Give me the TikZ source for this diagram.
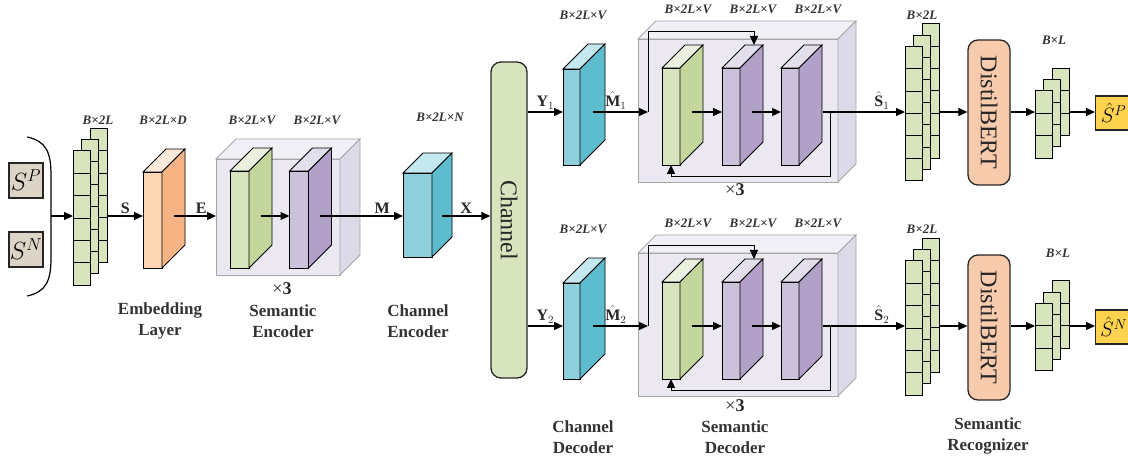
\documentclass[tikz,border=0pt]{standalone}
\usepackage{fontspec}
\usepackage{amsmath}
\setmainfont{Liberation Serif}
\usetikzlibrary{arrows.meta,calc}

\definecolor{grnF}{HTML}{D7E4BD}
\definecolor{grnS}{HTML}{C3D69B}
\definecolor{grnT}{HTML}{EBF1DE}
\definecolor{purF}{HTML}{CCC1DA}
\definecolor{purS}{HTML}{B1A0C7}
\definecolor{purT}{HTML}{E4DFEC}
\definecolor{cynF}{HTML}{8FCFDC}
\definecolor{cynS}{HTML}{5DBDCF}
\definecolor{cynT}{HTML}{C4E8EF}
\definecolor{orgF}{HTML}{FCD5B5}
\definecolor{orgS}{HTML}{F6B383}
\definecolor{orgT}{HTML}{FDE9D9}
\definecolor{boxF}{HTML}{EBE8F2}
\definecolor{boxS}{HTML}{DCD9E9}
\definecolor{boxT}{HTML}{F2F0F7}
\definecolor{boxline}{HTML}{A6A6A6}
\definecolor{cell}{HTML}{D8E4BC}
\definecolor{inbox}{HTML}{DCD4C7}
\definecolor{bertF}{HTML}{F8CBAD}
\definecolor{gold}{HTML}{FFD24F}

% cuboid: [border] name, x, y (front centre), width, height, depth, colour
\newcommand{\cuboid}[8][draw=black]{%
  \node[face, #1, fill=#8F, minimum width=#5pt, minimum height=#6pt] (#2) at (#3,#4) {};
  \filldraw[face, #1, fill=#8T] (#2.north west) -- ++(#7,-#7) -- ++(#5,0) -- (#2.north east) -- cycle;
  \filldraw[face, #1, fill=#8S] (#2.north east) -- ++(#7,-#7) -- ++(0,#6) -- (#2.south east) -- cycle;
  \coordinate (#2-s) at ($(#2.east)+(#7/2,-#7/2)$);
  \coordinate (#2-t) at ($(#2.north)+(#7,-#7)$);
}

% stack of three token columns: name, x, y (front column centre), cells
\newcommand{\stack}[4]{%
  \pgfmathtruncatemacro\lastc{#4-1}%
  \foreach \nm/\k in {#1-b/2,#1-m/1,#1/0} {
    \node[col, minimum height=#4*22.4pt] (\nm) at (#2+\k*8.7,#3-\k*11.3) {};
    \foreach \c in {1,...,\lastc}
      \draw[face] ($(\nm.north west)+(0,\c*22.4)$) -- ++(17,0);
  }
}

\begin{document}
\begin{tikzpicture}[x=1pt,y=-1pt]
    \tikzset{
        face/.style={rectangle, inner sep=0pt, outer sep=0pt, line width=0.8pt},
        col/.style={face, draw=black, fill=cell, minimum width=17pt},
        conn/.style={-{Triangle[length=9pt,width=8pt]}, line width=1.2pt},
        dimlabel/.style={font=\fontsize{13}{15}\selectfont\bfseries\itshape, text=black!80},
        arrlabel/.style={font=\fontsize{16}{18}\selectfont\bfseries, inner sep=2pt, text=black!85},
        blocklabel/.style={font=\fontsize{17}{21}\selectfont\bfseries, align=center, text=black!80},
        replabel/.style={font=\fontsize{18}{20}\selectfont, text=black!85},
        sbox/.style={rectangle, draw=black!85, line width=1.2pt, fill=inbox,
            minimum width=34pt, minimum height=35pt, inner sep=0pt,
            font=\fontsize{25}{25}\selectfont},
        roundbox/.style={rectangle, rounded corners=10pt, draw=black!85, line width=1.3pt, inner sep=0pt},
        outbox/.style={rectangle, draw=black!85, line width=1.2pt, fill=gold, anchor=west,
            minimum width=36pt, minimum height=34pt, inner sep=0pt,
            font=\fontsize{20}{20}\selectfont},
        vtext/.style={rotate=-90, font=\fontsize{24}{24}\selectfont, text=black!85},
    }
    \useasboundingbox (0,0) rectangle (1128,462);
    % \draw (0,0) grid[step=50] (1128,462);
    \coordinate (r0) at (0,216);
    \coordinate (r1) at (0,112);
    \coordinate (r2) at (0,326);

    % input sentences
    \node[sbox] (sp) at (26,180.5) {$S^P$};
    \node[sbox] (sn) at (26,249.5) {$S^N$};
    \draw[line width=1.2pt] (27,137) .. controls (46,141) and (51,152) .. (51,175)
        -- (51,258) .. controls (51,281) and (46,292) .. (27,296);
    \coordinate (brk) at (51,216);

    \stack{in}{81.5}{218}{6}
    \draw[conn] (brk) -- (in.west |- r0);

    % encoder side
    \cuboid{emb}{152.5}{220}{19}{96}{23}{org}
    \draw[conn] (in-b.east |- r0) -- node[arrlabel, above] (lS) {S} (emb.west |- r0);
    \cuboid[draw=boxline]{enc}{278}{217}{124}{116}{20}{box}
    \cuboid{enc-g}{239.5}{219.5}{19}{97}{23}{grn}
    \cuboid{enc-p}{299}{219.5}{19}{97}{23}{pur}
    \draw[conn] (emb-s |- r0) -- node[arrlabel, above, pos=0.65] (lE) {E} (enc.west |- r0);
    \draw[conn] (enc-g-s |- r0) -- (enc-p.west |- r0);
    \cuboid{chenc}{417.5}{215}{29}{84}{20}{cyn}
    \draw[conn] (enc-p-s |- r0) -- node[arrlabel, above, pos=0.75] (lM) {M} (chenc.west |- r0);

    \node[roundbox, fill=grnF, minimum width=36pt, minimum height=316pt] (chan) at (509,220) {};
    \node[vtext] (chan-txt) at (chan) {Channel};
    \draw[conn] (chenc-s |- r0) -- node[arrlabel, above] (lX) {X} (chan.west |- r0);

    % upper decoder branch
    \cuboid{cy1}{571.5}{117}{17}{96}{25}{cyn}
    \draw[conn] (chan.east |- r1) -- node[arrlabel, above] (lY1) {Y$_1$} (cy1.west |- r1);
    \cuboid[draw=boxline]{dec1}{738}{110.5}{200}{143}{18}{box}
    \cuboid{dec1-g}{671}{116.5}{18}{97}{23}{grn}
    \cuboid{dec1-p}{731}{116.5}{18}{97}{23}{pur}
    \cuboid{dec1-q}{790}{116.5}{18}{97}{23}{pur}
    \coordinate (j1) at (648,112);
    \draw[conn] (cy1-s |- r1) -- node[arrlabel, above, pos=0.42] (lM1) {$\hat{\text{\textbf{M}}}_1$} (j1);
    \draw[conn, line width=1pt] (j1) -- ++(0,-80) -| (dec1-p-t);
    \draw[conn] (dec1-g-s |- r1) -- (dec1-p.west |- r1);
    \draw[conn] (dec1-p-s |- r1) -- (dec1-q.west |- r1);
    \coordinate (q1) at ($(dec1-q-s |- r1)+(12,0)$);
    \draw[conn, line width=1pt] ($(q1)+(8,0)$) -- ++(0,65) -| (dec1-g.south);
    \stack{s1}{913.5}{113.5}{6}
    \draw[conn] (q1) -- node[arrlabel, above, pos=0.72] (lS1) {$\hat{\text{\textbf{S}}}_1$} (s1.west |- r1);
    \node[roundbox, fill=bertF, minimum width=42pt, minimum height=145pt] (bert1) at (989,112.5) {};
    \node[vtext] (bert1-txt) at (bert1) {DistilBERT};
    \draw[conn] (s1-b.east |- r1) -- (bert1.west |- r1);
    \stack{o1}{1043.5}{124.5}{3}
    \draw[conn] (bert1.east |- r1) -- (o1.west |- r1);
    \node[outbox] (sp-hat) at (1095,113) {$\hat{S}^P$};
    \draw[conn] (o1-b.east |- r1) -- (sp-hat.west |- r1);

    % lower decoder branch
    \cuboid{cy2}{571.5}{331}{17}{96}{25}{cyn}
    \draw[conn] (chan.east |- r2) -- node[arrlabel, above] (lY2) {Y$_2$} (cy2.west |- r2);
    \cuboid[draw=boxline]{dec2}{738}{324.5}{200}{143}{18}{box}
    \cuboid{dec2-g}{671}{330.5}{18}{97}{23}{grn}
    \cuboid{dec2-p}{731}{330.5}{18}{97}{23}{pur}
    \cuboid{dec2-q}{790}{330.5}{18}{97}{23}{pur}
    \coordinate (j2) at (648,326);
    \draw[conn] (cy2-s |- r2) -- node[arrlabel, above, pos=0.42] (lM2) {$\hat{\text{\textbf{M}}}_2$} (j2);
    \draw[conn, line width=1pt] (j2) -- ++(0,-80) -| (dec2-p-t);
    \draw[conn] (dec2-g-s |- r2) -- (dec2-p.west |- r2);
    \draw[conn] (dec2-p-s |- r2) -- (dec2-q.west |- r2);
    \coordinate (q2) at ($(dec2-q-s |- r2)+(12,0)$);
    \draw[conn, line width=1pt] ($(q2)+(8,0)$) -- ++(0,65) -| (dec2-g.south);
    \stack{s2}{913.5}{328}{6}
    \draw[conn] (q2) -- node[arrlabel, above, pos=0.72] (lS2) {$\hat{\text{\textbf{S}}}_2$} (s2.west |- r2);
    \node[roundbox, fill=bertF, minimum width=42pt, minimum height=145pt] (bert2) at (989,327.5) {};
    \node[vtext] (bert2-txt) at (bert2) {DistilBERT};
    \draw[conn] (s2-b.east |- r2) -- (bert2.west |- r2);
    \stack{o2}{1043.5}{337}{3}
    \draw[conn] (bert2.east |- r2) -- (o2.west |- r2);
    \node[outbox] (sn-hat) at (1095,327) {$\hat{S}^N$};
    \draw[conn] (o2-b.east |- r2) -- (sn-hat.west |- r2);

    % sizes
    \node[dimlabel] (d-in) at (98,120) {B×2L};
    \node[dimlabel] (d-emb) at (163,120) {B×2L×D};
    \node[dimlabel] (d-encg) at (252,120) {B×2L×V};
    \node[dimlabel] (d-encp) at (317,120) {B×2L×V};
    \node[dimlabel] (d-chenc) at (440,117) {B×2L×N};
    \node[dimlabel] (d-cy1) at (583,15) {B×2L×V};
    \node[dimlabel] (d-g1) at (688,9) {B×2L×V};
    \node[dimlabel] (d-p1) at (753,9) {B×2L×V};
    \node[dimlabel] (d-q1) at (818,9) {B×2L×V};
    \node[dimlabel] (d-s1) at (922,15) {B×2L};
    \node[dimlabel] (d-o1) at (1054,40) {B×L};
    \node[dimlabel] (d-cy2) at (583,229) {B×2L×V};
    \node[dimlabel] (d-g2) at (688,223) {B×2L×V};
    \node[dimlabel] (d-p2) at (753,223) {B×2L×V};
    \node[dimlabel] (d-q2) at (818,223) {B×2L×V};
    \node[dimlabel] (d-s2) at (922,229) {B×2L};
    \node[dimlabel] (d-o2) at (1058,253) {B×L};

    % repeats and block names
    \node[replabel] (rep-enc) at (282,289) {×\textbf{3}};
    \node[replabel] (rep-dec1) at (735,190) {×\textbf{3}};
    \node[replabel] (rep-dec2) at (735,406) {×\textbf{3}};
    \node[blocklabel] (t-emb) at (160,321) {Embedding\\Layer};
    \node[blocklabel] (t-enc) at (283,321) {Semantic\\Encoder};
    \node[blocklabel] (t-chenc) at (418,321) {Channel\\Encoder};
    \node[blocklabel] (t-chdec) at (583,437) {Channel\\Decoder};
    \node[blocklabel] (t-dec) at (735,437) {Semantic\\Decoder};
    \node[blocklabel] (t-rec) at (988,436) {Semantic\\Recognizer};
\end{tikzpicture}
\end{document}
